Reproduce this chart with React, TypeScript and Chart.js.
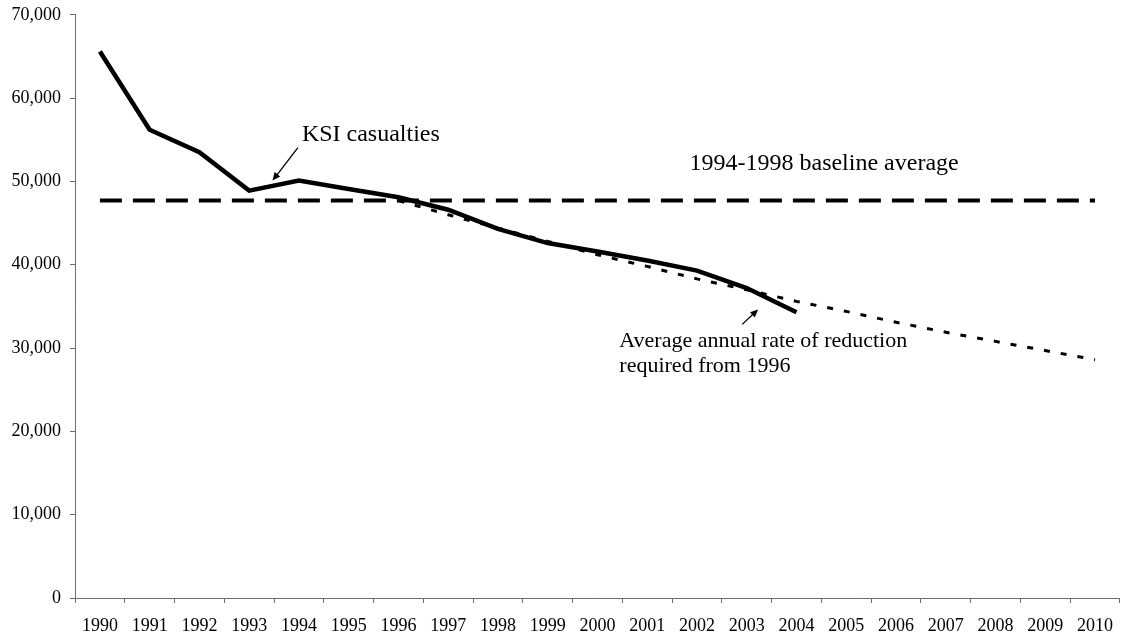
import React, { useEffect, useRef } from "react";
import { Chart, registerables } from "chart.js";

Chart.register(...registerables);

const YEARS = [
  "1990", "1991", "1992", "1993", "1994", "1995", "1996", "1997", "1998", "1999", "2000",
  "2001", "2002", "2003", "2004", "2005", "2006", "2007", "2008", "2009", "2010",
];

const KSI_CASUALTIES = [
  65600, 56200, 53500, 48900, 50100, 49100, 48100, 46600, 44300, 42600, 41600,
  40500, 39300, 37200, 34300, null, null, null, null, null, null,
];

const BASELINE_AVERAGE = 47700;

const REQUIRED_REDUCTION = [
  null, null, null, null, null, null, 47700, 46000, 44400, 42800, 41200,
  39800, 38300, 37000, 35600, 34400, 33100, 31900, 30800, 29700, 28600,
];

const Y_MIN = 0;
const Y_MAX = 70000;
const Y_STEP = 10000;

const FONT = "'Liberation Serif', 'Times New Roman', serif";
const AXIS_COLOR = "#6f6f6f";

// annotation anchors in data coordinates (x = category index, y = value)
const ANNOTATIONS = {
  ksiText: { x: 4.06, y: 54900, text: "KSI casualties", size: 24 },
  ksiArrow: { from: { x: 3.98, y: 54050 }, to: { x: 3.47, y: 50100 } },
  baselineText: { x: 11.85, y: 51400, text: "1994-1998 baseline average", size: 24 },
  rateText: {
    x: 10.44,
    y: 30100,
    y2: 27100,
    lines: ["Average annual rate of reduction", "required from 1996"],
    size: 22,
  },
  rateArrow: { from: { x: 12.91, y: 32840 }, to: { x: 13.23, y: 34640 } },
};

function drawArrow(ctx: CanvasRenderingContext2D, x1: number, y1: number, x2: number, y2: number) {
  const ang = Math.atan2(y2 - y1, x2 - x1);
  const headLen = 8;
  const headW = 3.5;
  ctx.save();
  ctx.strokeStyle = "#000";
  ctx.fillStyle = "#000";
  ctx.lineWidth = 1.3;
  ctx.beginPath();
  ctx.moveTo(x1, y1);
  ctx.lineTo(x2 - Math.cos(ang) * headLen * 0.8, y2 - Math.sin(ang) * headLen * 0.8);
  ctx.stroke();
  ctx.beginPath();
  ctx.moveTo(x2, y2);
  ctx.lineTo(
    x2 - Math.cos(ang) * headLen - Math.sin(ang) * headW,
    y2 - Math.sin(ang) * headLen + Math.cos(ang) * headW
  );
  ctx.lineTo(
    x2 - Math.cos(ang) * headLen + Math.sin(ang) * headW,
    y2 - Math.sin(ang) * headLen - Math.cos(ang) * headW
  );
  ctx.closePath();
  ctx.fill();
  ctx.restore();
}

const annotationPlugin = {
  id: "textAnnotations",
  afterDatasetsDraw(chart: any) {
    const { ctx, scales } = chart;
    const xs = scales.x;
    const ys = scales.y;
    const px = (v: number) => xs.getPixelForValue(v);
    const py = (v: number) => ys.getPixelForValue(v);
    ctx.save();
    ctx.fillStyle = "#000";
    ctx.textAlign = "left";
    ctx.textBaseline = "alphabetic";

    const k = ANNOTATIONS.ksiText;
    ctx.font = `${k.size}px ${FONT}`;
    ctx.fillText(k.text, px(k.x), py(k.y));

    const b = ANNOTATIONS.baselineText;
    ctx.font = `${b.size}px ${FONT}`;
    ctx.fillText(b.text, px(b.x), py(b.y));

    const r = ANNOTATIONS.rateText;
    ctx.font = `${r.size}px ${FONT}`;
    ctx.fillText(r.lines[0], px(r.x), py(r.y));
    ctx.fillText(r.lines[1], px(r.x), py(r.y2));

    const a1 = ANNOTATIONS.ksiArrow;
    drawArrow(ctx, px(a1.from.x), py(a1.from.y), px(a1.to.x), py(a1.to.y));
    const a2 = ANNOTATIONS.rateArrow;
    drawArrow(ctx, px(a2.from.x), py(a2.from.y), px(a2.to.x), py(a2.to.y));
    ctx.restore();
  },
};

export default function App() {
  const canvasRef = useRef<HTMLCanvasElement | null>(null);

  useEffect(() => {
    document.body.style.margin = "0";
    const canvas = canvasRef.current;
    if (!canvas) return;
    const chart = new Chart(canvas, {
      type: "line",
      data: {
        labels: YEARS,
        datasets: [
          {
            label: "KSI casualties",
            data: KSI_CASUALTIES,
            borderColor: "#000",
            borderWidth: 4.5,
            pointRadius: 0,
            tension: 0,
            spanGaps: false,
            borderJoinStyle: "miter",
          },
          {
            label: "1994-1998 baseline average",
            data: YEARS.map(() => BASELINE_AVERAGE),
            borderColor: "#000",
            borderWidth: 4,
            borderDash: [22, 11],
            pointRadius: 0,
            tension: 0,
          },
          {
            label: "Average annual rate of reduction required from 1996",
            data: REQUIRED_REDUCTION,
            borderColor: "#000",
            borderWidth: 3,
            borderDash: [6, 11],
            pointRadius: 0,
            tension: 0,
          },
        ],
      },
      options: {
        responsive: false,
        animation: false,
        devicePixelRatio: 1,
        layout: { padding: { top: 9, right: 0, left: 0, bottom: 0 } },
        plugins: {
          legend: { display: false },
          tooltip: { enabled: false },
          title: { display: false },
        },
        scales: {
          x: {
            type: "category",
            offset: true,
            grid: {
              offset: true,
              drawOnChartArea: false,
              drawTicks: true,
              tickLength: 5,
              color: AXIS_COLOR,
            },
            border: { color: AXIS_COLOR, width: 1 },
            ticks: {
              color: "#000",
              font: { family: FONT, size: 18 },
              maxRotation: 0,
              autoSkip: false,
              padding: 12,
            },
            afterFit(scale: any) {
              scale.height = 40;
            },
          },
          y: {
            min: Y_MIN,
            max: Y_MAX,
            grid: {
              drawOnChartArea: false,
              drawTicks: true,
              tickLength: 5,
              color: AXIS_COLOR,
            },
            border: { color: AXIS_COLOR, width: 1 },
            ticks: {
              stepSize: Y_STEP,
              color: "#000",
              font: { family: FONT, size: 18 },
              padding: 9,
              callback: (v: any) => Number(v).toLocaleString("en-US"),
            },
            afterFit(scale: any) {
              scale.width = 75;
            },
          },
        },
      },
      plugins: [annotationPlugin],
    });
    return () => chart.destroy();
  }, []);

  return (
    <div style={{ width: 1121, height: 638, position: "relative", overflow: "hidden" }}>
      <canvas
        ref={canvasRef}
        width={1125}
        height={643}
        style={{ display: "block", position: "absolute", left: 0, top: -5 }}
      />
    </div>
  );
}
